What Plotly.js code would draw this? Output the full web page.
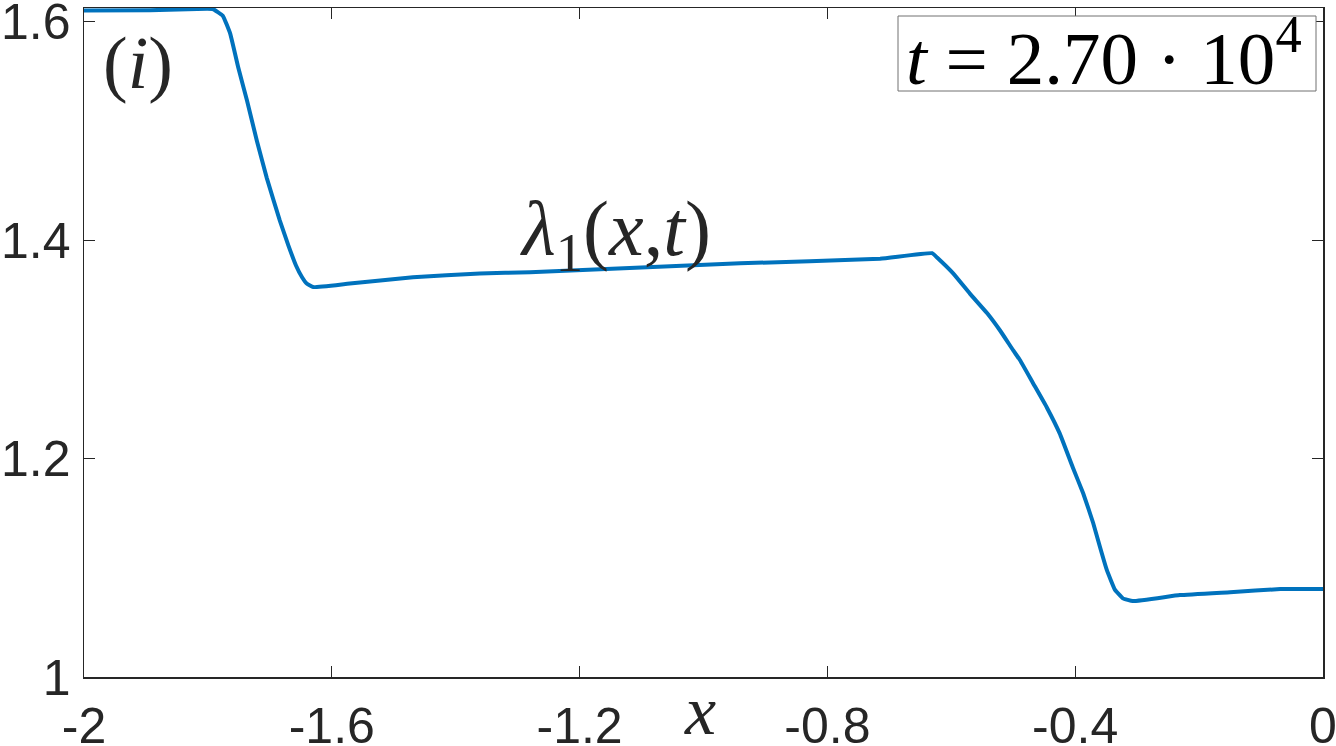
<!DOCTYPE html>
<html>
<head>
<meta charset="utf-8">
<script src="https://cdn.plot.ly/plotly-3.0.1.min.js"></script>
<style>html,body{margin:0;padding:0;background:#fff;}#chart{width:1336px;height:746px;}</style>
</head>
<body>
<div id="chart"></div>
<script>
// lambda_1(x,t) at t = 2.70e4
const xVals = [-2.0, -1.8935, -1.8015, -1.792, -1.776, -1.764, -1.751, -1.737, -1.721, -1.705, -1.684, -1.670, -1.658, -1.648, -1.640, -1.630, -1.575, -1.469, -1.361, -1.280, -0.941, -0.715, -0.631, -0.623, -0.597, -0.570, -0.542, -0.521, -0.500, -0.489, -0.468, -0.446, -0.425, -0.404, -0.387, -0.371, -0.360, -0.349, -0.336, -0.323, -0.307, -0.231, -0.150, -0.069, 0.0];
const yVals = [1.6101, 1.6105, 1.6118, 1.6116, 1.6055, 1.589, 1.558, 1.528, 1.491, 1.457, 1.418, 1.395, 1.377, 1.366, 1.360, 1.357, 1.360, 1.366, 1.3695, 1.3705, 1.3787, 1.383, 1.388, 1.384, 1.3695, 1.351, 1.333, 1.317, 1.299, 1.290, 1.269, 1.247, 1.223, 1.192, 1.168, 1.141, 1.119, 1.098, 1.080, 1.072, 1.0695, 1.075, 1.0777, 1.0805, 1.0805];
const xTicks = [-2, -1.6, -1.2, -0.8, -0.4, 0];
const xTickText = ['-2', '-1.6', '-1.2', '-0.8', '-0.4', '0'];
const yTicks = [1, 1.2, 1.4, 1.6];
const yTickText = ['1', '1.2', '1.4', '1.6'];

const axisColor = '#262626';
const tickFont = {family: 'Liberation Sans, Arial, sans-serif', size: 50, color: axisColor};
const serif = 'Liberation Serif, Times New Roman, serif';

const trace = {
  x: xVals, y: yVals, type: 'scatter', mode: 'lines',
  line: {color: '#0072BD', width: 4, shape: 'spline', smoothing: 0.3},
  hoverinfo: 'skip'
};

const layout = {
  width: 1336, height: 746,
  margin: {l: 84, r: 13, t: 8, b: 69},
  paper_bgcolor: '#ffffff', plot_bgcolor: '#ffffff',
  showlegend: false,
  xaxis: {
    range: [-2, 0], tickvals: xTicks, ticktext: xTickText,
    ticks: 'inside', ticklen: 11, tickwidth: 1, tickcolor: axisColor,
    showline: true, linecolor: axisColor, linewidth: 1.5, mirror: 'ticks',
    showgrid: false, zeroline: false, tickfont: tickFont, ticklabelstandoff: 4,
    ticklabeloverflow: 'allow'
  },
  yaxis: {
    range: [1, 1.6125], tickvals: yTicks, ticktext: yTickText,
    ticks: 'inside', ticklen: 11, tickwidth: 1, tickcolor: axisColor,
    showline: true, linecolor: axisColor, linewidth: 1.5, mirror: 'ticks',
    showgrid: false, zeroline: false, tickfont: tickFont, ticklabelstandoff: 2,
    ticklabeloverflow: 'allow'
  },
  shapes: [
    {type: 'rect', xref: 'paper', yref: 'paper',
     x0: (898 - 84) / 1239, x1: (1316 - 84) / 1239,
     y0: (677 - 91) / 669, y1: (677 - 16) / 669,
     line: {color: '#707070', width: 1}, fillcolor: '#ffffff'}
  ],
  annotations: [
    {xref: 'paper', yref: 'paper', x: (904 - 84) / 1239, y: (677 - 52) / 669,
     xanchor: 'left', yanchor: 'middle', showarrow: false,
     text: '<i>t</i> = 2.70 · 10<sup>4</sup>',
     font: {family: serif, size: 75, color: '#000000'}},
    {xref: 'paper', yref: 'paper', x: (138 - 84) / 1239, y: (677 - 63) / 669,
     xanchor: 'center', yanchor: 'middle', showarrow: false,
     text: '(<i>i</i>)',
     font: {family: serif, size: 74, color: axisColor}},
    {xref: 'paper', yref: 'paper', x: (615 - 84) / 1239, y: (677 - 234) / 669,
     xanchor: 'center', yanchor: 'middle', showarrow: false,
     text: '<i>λ</i><sub>1</sub>(<i>x</i>,<i>t</i>)',
     font: {family: serif, size: 78, color: axisColor}},
    {xref: 'paper', yref: 'paper', x: (700 - 84) / 1239, y: (677 - 710) / 669,
     xanchor: 'center', yanchor: 'middle', showarrow: false,
     text: '<i>x</i>',
     font: {family: serif, size: 70, color: axisColor}}
  ]
};

Plotly.newPlot('chart', [trace], layout, {staticPlot: true, displayModeBar: false});
</script>
</body>
</html>
